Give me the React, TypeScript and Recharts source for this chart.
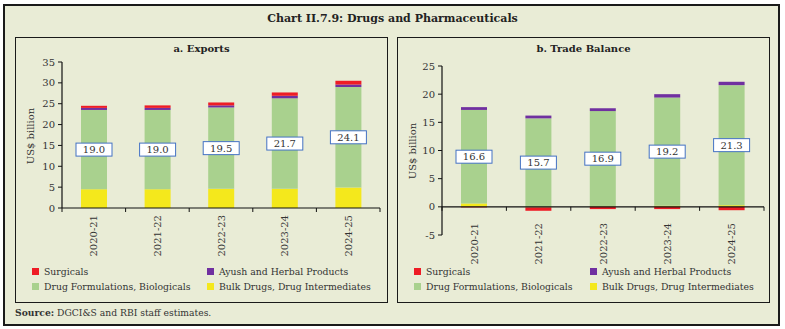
import React from 'react';
import { BarChart, Bar, XAxis, YAxis, ReferenceLine, LabelList } from 'recharts';

const years = ['2020-21', '2021-22', '2022-23', '2023-24', '2024-25'];

const exportBulk = [4.5, 4.5, 4.6, 4.6, 4.9];
const exportFormulations = [19.0, 19.0, 19.5, 21.7, 24.1];
const exportAyush = [0.5, 0.5, 0.5, 0.6, 0.6];
const exportSurgicals = [0.5, 0.6, 0.7, 0.8, 0.9];

const balanceBulk = [0.6, -0.1, 0.1, 0.2, 0.3];
const balanceFormulations = [16.6, 15.7, 16.9, 19.2, 21.3];
const balanceAyush = [0.5, 0.5, 0.5, 0.6, 0.6];
const balanceSurgicals = [-0.1, -0.6, -0.4, -0.4, -0.6];

const exportTicks = [0, 5, 10, 15, 20, 25, 30, 35];
const balanceTicks = [-5, 0, 5, 10, 15, 20, 25];

const seriesNames = {
  surgicals: 'Surgicals',
  ayush: 'Ayush and Herbal Products',
  formulations: 'Drug Formulations, Biologicals',
  bulk: 'Bulk Drugs, Drug Intermediates',
};

const COLORS = {
  surgicals: '#ee1c25',
  ayush: '#7030a0',
  formulations: '#a9d18e',
  bulk: '#f4e81c',
};

const FONT = '"DejaVu Serif", serif';
const TEXT = '#333333';
const BG = '#e9ecd6';

const exportData = years.map((y, i) => ({
  year: y,
  bulk: exportBulk[i],
  formulations: exportFormulations[i],
  ayush: exportAyush[i],
  surgicals: exportSurgicals[i],
}));

const balanceData = years.map((y, i) => ({
  year: y,
  bulk: balanceBulk[i],
  formulations: balanceFormulations[i],
  ayush: balanceAyush[i],
  surgicals: balanceSurgicals[i],
}));

const BoxLabel = (props: any) => {
  const { x, y, width, height, value } = props;
  const cx = Number(x) + Number(width) / 2;
  const cy = Number(y) + Number(height) / 2;
  const w = 36;
  const h = 13;
  return (
    <g>
      <rect x={cx - w / 2} y={cy - h / 2} width={w} height={h} fill="#ffffff" stroke="#4472c4" strokeWidth={1} />
      <text x={cx} y={cy} dy="0.36em" textAnchor="middle" fontFamily={FONT} fontSize={10} fill={TEXT}>
        {Number(value).toFixed(1)}
      </text>
    </g>
  );
};

const makeYearTick = (gap: number) => (props: any) => {
  const { x, y, payload } = props;
  const ty = y + gap;
  return (
    <text
      x={x}
      y={ty}
      dy="0.35em"
      transform={`rotate(-90, ${x}, ${ty})`}
      textAnchor="end"
      fontFamily={FONT}
      fontSize={10}
      fill={TEXT}
    >
      {payload.value}
    </text>
  );
};

const makeZeroAxis = (n: number) => (props: any) => {
  const { x1, y1, x2 } = props;
  const step = (x2 - x1) / n;
  const ticks = Array.from({ length: n + 1 }, (_, i) => x1 + i * step);
  return (
    <g>
      <line x1={x1} y1={y1} x2={x2} y2={y1} stroke="#111" strokeWidth={1.2} />
      {ticks.map((tx, i) => (
        <line key={i} x1={tx} y1={y1} x2={tx} y2={y1 + 4} stroke="#111" strokeWidth={1} />
      ))}
    </g>
  );
};

const Legend = ({ left, top, col2 }: { left: number; top: number; col2: number }) => {
  const items: [keyof typeof COLORS, number, number][] = [
    ['surgicals', 0, 0],
    ['ayush', col2, 0],
    ['formulations', 0, 15],
    ['bulk', col2, 15],
  ];
  return (
    <>
      {items.map(([k, dx, dy]) => (
        <div
          key={k}
          style={{
            position: 'absolute',
            left: left + dx,
            top: top + dy,
            height: 12,
            display: 'flex',
            alignItems: 'center',
            fontFamily: FONT,
            fontSize: 9.3,
            color: TEXT,
            whiteSpace: 'nowrap',
          }}
        >
          <span style={{ display: 'inline-block', width: 7, height: 7, background: COLORS[k], marginRight: 5 }} />
          {seriesNames[k]}
        </div>
      ))}
    </>
  );
};

const Panel = (props: {
  left: number;
  top: number;
  width: number;
  height: number;
  title: string;
  data: any[];
  ticks: number[];
  domain: [number, number];
  yAxisWidth: number;
  marginTop: number;
  marginRight: number;
  xAxisHeight: number;
  tickGap: number;
  labelLeft: number;
  labelTop: number;
}) => {
  const p = props;
  return (
    <div
      style={{
        position: 'absolute',
        left: p.left,
        top: p.top,
        width: p.width,
        height: p.height,
        border: '1px solid #1a1a1a',
        boxSizing: 'border-box',
      }}
    >
      <div
        style={{
          position: 'absolute',
          left: 0,
          width: '100%',
          top: 5,
          textAlign: 'center',
          fontFamily: FONT,
          fontWeight: 'bold',
          fontSize: 10,
          color: '#222',
        }}
      >
        {p.title}
      </div>
      <div
        style={{
          position: 'absolute',
          left: p.labelLeft - 40,
          top: p.labelTop - 7,
          width: 80,
          height: 14,
          transform: 'rotate(-90deg)',
          textAlign: 'center',
          fontFamily: FONT,
          fontSize: 10,
          color: TEXT,
          lineHeight: '14px',
          whiteSpace: 'nowrap',
        }}
      >
        US$ billion
      </div>
      <div style={{ position: 'absolute', left: -1, top: -1 }}>
        <BarChart
          width={p.width}
          height={p.height}
          data={p.data}
          stackOffset="sign"
          barSize={26}
          margin={{ top: p.marginTop, right: p.marginRight, left: 0, bottom: 0 }}
        >
          <XAxis
            dataKey="year"
            axisLine={false}
            tickLine={false}
            tickSize={0}
            tickMargin={0}
            height={p.xAxisHeight}
            interval={0}
            tick={makeYearTick(p.tickGap)}
          />
          <YAxis
            width={p.yAxisWidth}
            domain={p.domain}
            ticks={p.ticks}
            interval={0}
            axisLine={{ stroke: '#111', strokeWidth: 1.2 }}
            tickLine={{ stroke: '#111' }}
            tickSize={4}
            tickMargin={3}
            tick={{ fontFamily: FONT, fontSize: 10, fill: TEXT }}
          />
          <Bar dataKey="bulk" stackId="a" fill={COLORS.bulk} isAnimationActive={false} />
          <Bar dataKey="formulations" stackId="a" fill={COLORS.formulations} isAnimationActive={false}>
            <LabelList dataKey="formulations" content={BoxLabel} />
          </Bar>
          <Bar dataKey="ayush" stackId="a" fill={COLORS.ayush} isAnimationActive={false} />
          <Bar dataKey="surgicals" stackId="a" fill={COLORS.surgicals} isAnimationActive={false} />
          <ReferenceLine y={0} shape={makeZeroAxis(p.data.length)} ifOverflow="visible" />
        </BarChart>
      </div>
    </div>
  );
};

export default function App() {
  return (
    <div style={{ position: 'absolute', left: 0, top: 0, width: 785, height: 329, background: '#ffffff' }}>
      <div
        style={{
          position: 'absolute',
          left: 3,
          top: 4,
          width: 777,
          height: 322,
          border: '2px solid #1a1a1a',
          boxSizing: 'border-box',
          background: BG,
        }}
      />
      <div
        style={{
          position: 'absolute',
          left: 0,
          width: 785,
          top: 12,
          textAlign: 'center',
          fontFamily: FONT,
          fontWeight: 'bold',
          fontSize: 11,
          color: '#222',
        }}
      >
        Chart II.7.9: Drugs and Pharmaceuticals
      </div>
      <Panel
        left={15}
        top={37}
        width={373}
        height={266}
        title="a. Exports"
        data={exportData}
        ticks={exportTicks}
        domain={[0, 35]}
        yAxisWidth={47}
        marginTop={25}
        marginRight={8}
        xAxisHeight={95}
        tickGap={7}
        labelLeft={15}
        labelTop={98}
      />
      <Panel
        left={397}
        top={37}
        width={373}
        height={266}
        title="b. Trade Balance"
        data={balanceData}
        ticks={balanceTicks}
        domain={[-5, 25]}
        yAxisWidth={45}
        marginTop={29}
        marginRight={6}
        xAxisHeight={68}
        tickGap={-12}
        labelLeft={15}
        labelTop={113}
      />
      <Legend left={32} top={265} col2={175} />
      <Legend left={414} top={265} col2={176} />
      <div
        style={{
          position: 'absolute',
          left: 15,
          top: 307,
          fontFamily: FONT,
          fontSize: 9.2,
          color: TEXT,
          whiteSpace: 'nowrap',
        }}
      >
        <b>Source:</b> DGCI&amp;S and RBI staff estimates.
      </div>
    </div>
  );
}
